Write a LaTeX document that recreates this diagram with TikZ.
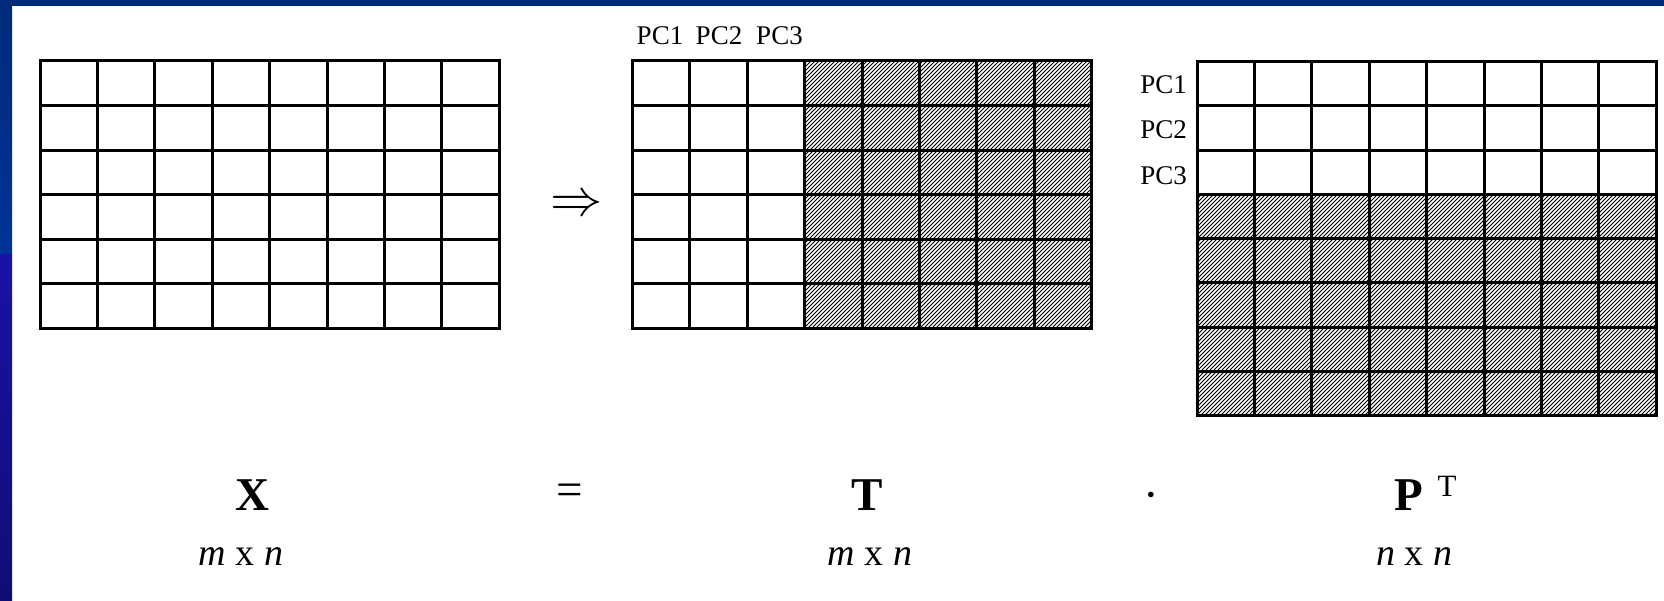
\documentclass[tikz,border=0pt]{standalone}
\usepackage{fontspec}
\setmainfont{Liberation Serif}
\usepackage{tikz}
\usetikzlibrary{patterns.meta}

\definecolor{slidenavy}{HTML}{002A7A}
\definecolor{slideblue}{HTML}{003399}
\definecolor{slideviolet}{HTML}{1A12A8}
\definecolor{slidedark}{HTML}{0C0E74}

\tikzset{
  gridline/.style={draw=black,line width=3pt,line cap=rect},
  hatchfill/.style={pattern={Lines[angle=45,distance=2.8284pt,line width=0.9pt]}},
  pclabel/.style={font=\fontsize{27}{30}\selectfont,inner sep=0pt},
  bigsym/.style={font=\fontsize{47}{50}\selectfont,inner sep=0pt},
  suplabel/.style={font=\fontsize{31}{34}\selectfont,inner sep=0pt},
  dims/.style={font=\fontsize{38}{40}\selectfont,inner sep=0pt},
  arrowsym/.style={font=\fontsize{24.88}{28}\selectfont,inner sep=0pt,scale=2.1},
}

\begin{document}
\begin{tikzpicture}[x=1pt,y=1pt]
  \def\cw{57.4}
  \def\ch{44.6}
  \useasboundingbox (0,0) rectangle (1664,600);
  \fill[white] (0,0) rectangle (1664,600);
  % slide frame
  \fill[slidenavy] (0,594) rectangle (1664,600);
  \shade[top color=slidenavy,bottom color=slideblue] (0,594) rectangle (12,345);
  \shade[top color=slideviolet,bottom color=slidedark] (0,345) rectangle (12,0);

  % data matrix X
  \begin{scope}[shift={(40,539)}]
    \foreach \k in {0,...,8} \draw[gridline] (\k*\cw,0) -- (\k*\cw,-6*\ch);
    \foreach \k in {0,...,6} \draw[gridline] (0,-\k*\ch) -- (8*\cw,-\k*\ch);
  \end{scope}

  % scores T (first three columns kept)
  \begin{scope}[shift={(632.5,539)}]
    \fill[hatchfill] (3*\cw,0) rectangle (8*\cw,-6*\ch);
    \foreach \k in {0,...,8} \draw[gridline] (\k*\cw,0) -- (\k*\cw,-6*\ch);
    \foreach \k in {0,...,6} \draw[gridline] (0,-\k*\ch) -- (8*\cw,-\k*\ch);
  \end{scope}

  % loadings P^T (first three rows kept)
  \def\ch{44.3}
  \begin{scope}[shift={(1197,538.5)}]
    \fill[hatchfill] (0,-3*\ch) rectangle (8*\cw,-8*\ch);
    \foreach \k in {0,...,8} \draw[gridline] (\k*\cw,0) -- (\k*\cw,-8*\ch);
    \foreach \k in {0,...,8} \draw[gridline] (0,-\k*\ch) -- (8*\cw,-\k*\ch);
  \end{scope}

  % component labels
  \node[pclabel,anchor=base] (pc1top) at (660,555.7) {PC1};
  \node[pclabel,anchor=base] (pc2top) at (719,555.7) {PC2};
  \node[pclabel,anchor=base] (pc3top) at (779.5,555.7) {PC3};
  \node[pclabel,anchor=base east] (pc1side) at (1187,506.7) {PC1};
  \node[pclabel,anchor=base east] (pc2side) at (1187,461.7) {PC2};
  \node[pclabel,anchor=base east] (pc3side) at (1187,415) {PC3};

  \node[arrowsym] (impl) at (577,394) {$\Rightarrow$};

  % equation row
  \node[bigsym,anchor=base] (matX) at (252.6,89.3) {\textbf{X}};
  \node[dims,anchor=base] (dimX) at (241,35) {\textit{m} x \textit{n}};
  \node[bigsym] (eqsign) at (570,105.5) {=};
  \node[bigsym,anchor=base] (matT) at (867,89.3) {\textbf{T}};
  \node[dims,anchor=base] (dimT) at (870,35) {\textit{m} x \textit{n}};
  \node[bigsym] (dotsign) at (1151.4,99) {·};
  \node[bigsym,anchor=base] (matP) at (1408.6,89.3) {\textbf{P}};
  \node[suplabel,anchor=base] (supT) at (1447,104) {T};
  \node[dims,anchor=base] (dimP) at (1414,35) {\textit{n} x \textit{n}};
\end{tikzpicture}
\end{document}
